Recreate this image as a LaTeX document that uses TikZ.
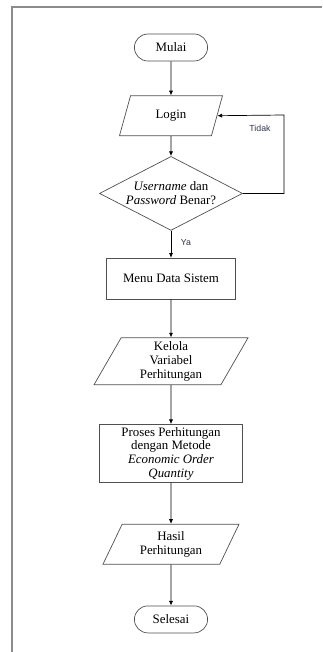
\documentclass[tikz,border=0pt]{standalone}
\usepackage{fontspec}
\setmainfont{Liberation Serif}
\setsansfont{Liberation Sans}
\usepackage{tikz}
\usetikzlibrary{positioning,calc,shapes.geometric,shapes.misc,arrows.meta}
\definecolor{Frame}{HTML}{8C8C8C}
\definecolor{Outline}{HTML}{505050}
\definecolor{Label}{HTML}{33364A}

\tikzset{
	terminal/.style={draw=Outline, line width=0.6pt, rounded rectangle,
		minimum width=2.43cm, minimum height=0.81cm, align=center},
	io/.style={draw=Outline, line width=0.6pt, trapezium,
		trapezium left angle=60, trapezium right angle=120,
		trapezium stretches body=true, inner xsep=2pt, align=center},
	process/.style={draw=Outline, line width=0.6pt, rectangle, align=center},
	decision/.style={draw=Outline, line width=0.6pt, diamond, aspect=2,
		inner sep=0pt, minimum width=4.29cm, minimum height=2.22cm, align=center},
	flow/.style={->, >={Latex[length=4pt,width=3.5pt]}, line width=0.6pt},
	answer/.style={font=\sffamily\fontsize{7.5}{9}\selectfont, text=Label}
}

\begin{document}
\begin{tikzpicture}[font=\fontsize{11}{11.7}\selectfont]
			
			\useasboundingbox (0,0) rectangle (9.66,-19.56);
			
			% ---------------------------------------------------------
			% FRAME
			% ---------------------------------------------------------
			
			\draw[Frame, line width=1.2pt]
			(9.66,-0.21) -- (0.36,-0.21) -- (0.36,-19.56);
			
			% ---------------------------------------------------------
			% START
			% ---------------------------------------------------------
			
			\node[terminal] (mulai) at (5.13,-1.425) {Mulai};
			
			% ---------------------------------------------------------
			% LOGIN
			% ---------------------------------------------------------
			
			\node[io, minimum width=3.09cm, minimum height=1.2cm,
			below=1.02cm of mulai]
			(login)
			{Login};
			
			\node[decision, below=0.6cm of login]
			(cek)
			{\textit{Username} dan\\\textit{Password} Benar?};
			
			% ---------------------------------------------------------
			% MENU
			% ---------------------------------------------------------
			
			\node[process, minimum width=3.87cm, minimum height=1.23cm,
			below=0.81cm of cek]
			(menu)
			{Menu Data Sistem};
			
			\node[io, minimum width=4.62cm, minimum height=1.38cm,
			below=1.14cm of menu]
			(kelola)
			{Kelola\\Variabel\\Perhitungan};
			
			% ---------------------------------------------------------
			% EOQ
			% ---------------------------------------------------------
			
			\node[process, minimum width=4.29cm, minimum height=1.74cm,
			inner sep=1pt, below=1.17cm of kelola]
			(proses)
			{Proses Perhitungan\\dengan Metode\\\textit{Economic Order}\\\textit{Quantity}};
			
			\node[io, minimum width=4.08cm, minimum height=1.2cm,
			below=1.23cm of proses]
			(hasil)
			{Hasil\\Perhitungan};
			
			% ---------------------------------------------------------
			% END
			% ---------------------------------------------------------
			
			\node[terminal, below=1.23cm of hasil] (selesai) {Selesai};
			
			% ---------------------------------------------------------
			% ARROWS
			% ---------------------------------------------------------
			
			\coordinate (balik) at (8.52,-3.45);
			
			\draw[flow] (mulai) -- (login);
			\draw[flow] (login) -- (cek);
			\draw[flow] (cek) -- (menu);
			\draw[flow] (menu) -- (kelola);
			\draw[flow] (kelola) -- (proses);
			\draw[flow] (proses) -- (hasil);
			\draw[flow] (hasil) -- (selesai);
			
			\draw[flow] (cek.east) -| (balik) -- (login.east);
			
			\node[answer] (tidak) at (7.8,-3.84) {Tidak};
			\node[answer] (ya) at (5.58,-7.29) {Ya};
			
		\end{tikzpicture}
\end{document}
